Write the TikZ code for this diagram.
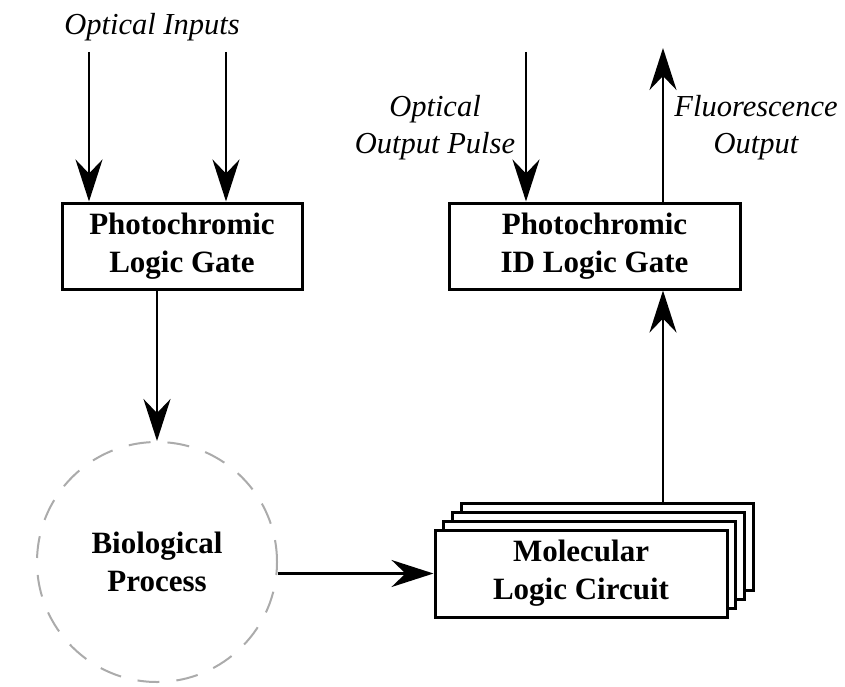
\documentclass[tikz,border=0pt]{standalone}
\usepackage{fontspec}
\setmainfont{Liberation Serif}
\usetikzlibrary{arrows.meta}
\begin{document}
\begin{tikzpicture}[x=1pt,y=-1pt,
  arr/.style={line width=2.8pt,-{Stealth[length=42pt,width=27pt,inset=14pt]}},
  gatebox/.style={draw,line width=3pt,fill=white,minimum height=86pt,align=center,
    font=\fontsize{31}{38}\selectfont\bfseries,inner sep=0pt},
  lbl/.style={align=center,font=\fontsize{30.5}{37}\selectfont\itshape,inner sep=0pt},
  bio/.style={circle,draw=black!33,line width=2pt,dash pattern=on 22pt off 17pt,
    minimum size=240pt,inner sep=0pt,align=center,font=\fontsize{31}{38}\selectfont\bfseries}]
\useasboundingbox (0,0) rectangle (845,687);
% nodes
\node[gatebox,minimum width=240pt] (g1) at (182,246) {Photochromic\\Logic Gate};
\node[gatebox,minimum width=291pt] (g2) at (594.5,246) {Photochromic\\ID Logic Gate};
\node[bio] (bio) at (157,562) {Biological\\Process};
\node[gatebox,minimum width=292pt,minimum height=87pt] (s3) at (607,546.5) {};
\node[gatebox,minimum width=292pt,minimum height=87pt] (s2) at (598.3,555.5) {};
\node[gatebox,minimum width=292pt,minimum height=87pt] (s1) at (589.7,564.5) {};
\node[gatebox,minimum width=292pt,minimum height=87pt] (s0) at (581,573.5) {Molecular\\Logic Circuit};
% labels
\node[lbl] (lin) at (152,27) {Optical Inputs};
\node[lbl] (lpulse) at (435,128) {Optical\\Output Pulse};
\node[lbl] (lfl) at (756,128) {Fluorescence\\Output};
% free ends
\coordinate (inA) at (89,52);
\coordinate (inB) at (226,52);
\coordinate (inC) at (526,52);
\coordinate (outF) at (663,48);
% connectors
\draw[arr] (inA) -- (inA |- g1.north);
\draw[arr] (inB) -- (inB |- g1.north);
\draw[arr] (bio.north |- g1.south) -- (bio.north);
\draw[arr] (s0.west -| bio.east) -- (s0.west);
\draw[arr] (s3.north -| outF) -- (g2.south -| outF);
\draw[arr] (inC) -- (inC |- g2.north);
\draw[arr] (g2.north -| outF) -- (outF);
\end{tikzpicture}
\end{document}
